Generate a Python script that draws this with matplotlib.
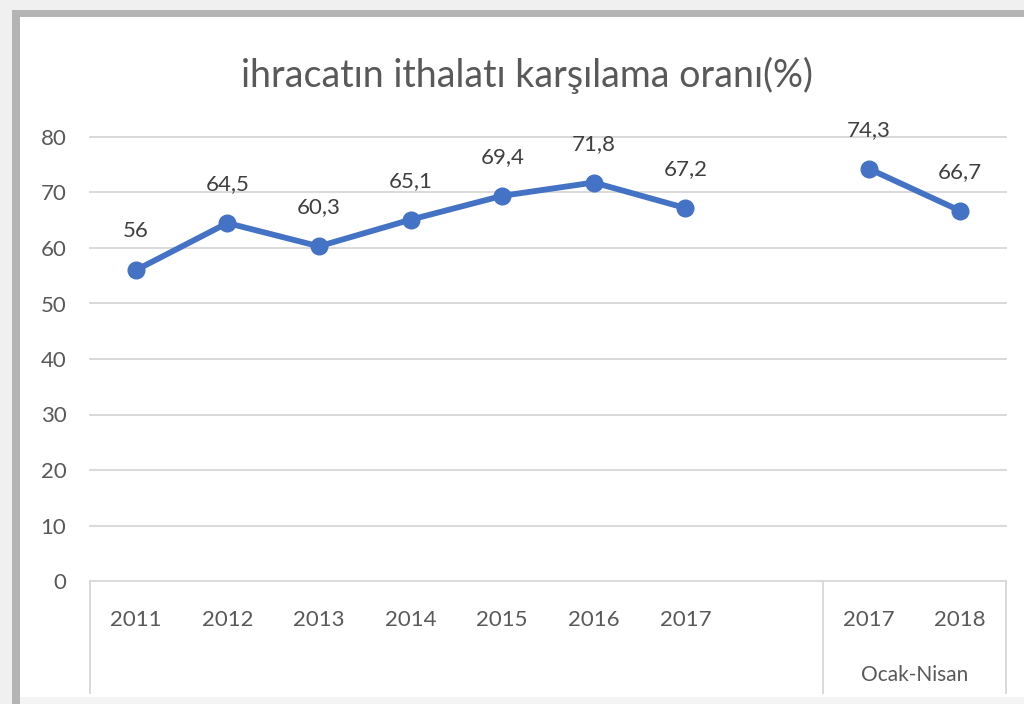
import numpy as np
import matplotlib
matplotlib.use("Agg")
import matplotlib.pyplot as plt
from matplotlib.patches import Rectangle
from matplotlib.transforms import blended_transform_factory
from matplotlib.lines import Line2D

categories = ['2011', '2012', '2013', '2014', '2015', '2016', '2017', '', '2017', '2018']
values = [56, 64.5, 60.3, 65.1, 69.4, 71.8, 67.2, np.nan, 74.3, 66.7]
group_label = 'Ocak-Nisan'
title = 'ihracatın ithalatı karşılama oranı(%)'
yticks = [0, 10, 20, 30, 40, 50, 60, 70, 80]

plt.rcParams['font.family'] = ['Lato', 'DejaVu Sans']

W, H = 1024, 704
fig = plt.figure(figsize=(W / 100, H / 100), dpi=100)
fig.patch.set_facecolor('white')

def px_rect(x0, y0, x1, y1, color):
    fig.add_artist(Rectangle((x0 / W, 1 - y1 / H), (x1 - x0) / W, (y1 - y0) / H,
                             transform=fig.transFigure, facecolor=color,
                             edgecolor='none', zorder=-10))

# screenshot frame
px_rect(0, 0, W, 10, '#f0f0f0')
px_rect(0, 0, 12, H, '#f0f0f0')
px_rect(12, 10, W, 17, '#b4b4b4')
px_rect(12, 10, 20, H, '#b4b4b4')
px_rect(20, 697, W, H, '#f4f4f4')

ax = fig.add_axes([90 / W, 1 - 581 / H, (1006 - 90) / W, (581 - 137) / H])
ax.set_facecolor('none')
x = np.arange(len(categories))
ax.set_xlim(-0.5, len(categories) - 0.5)
ax.set_ylim(0, 80)

for yv in yticks:
    ax.axhline(yv, color='#d9d9d9', lw=1.4, zorder=1, clip_on=False)

ax.plot(x, values, color='#4472C4', lw=4.2, marker='o', markersize=12,
        solid_capstyle='round', zorder=3, clip_on=False)

for xi, v in zip(x, values):
    if np.isnan(v):
        continue
    lab = ('%g' % v).replace('.', ',')
    ax.annotate(lab, (xi, v), xytext=(0, 28), textcoords='offset points',
                ha='center', va='center', fontsize=16, color='#404040', zorder=4)

for s in ax.spines.values():
    s.set_visible(False)
ax.set_yticks(yticks)
ax.set_yticklabels([str(t) for t in yticks], fontsize=16, color='#595959')
ax.tick_params(axis='y', length=0, pad=17)
ax.set_xticks([])

trans = blended_transform_factory(ax.transData, ax.transAxes)
for xl in [-0.5, 7.5, len(categories) - 0.5]:
    ax.add_artist(Line2D([xl, xl], [0, -0.252], transform=trans, color='#d9d9d9',
                         lw=1.4, clip_on=False))
for xi, c in zip(x, categories):
    if c:
        ax.text(xi, -0.088, c, transform=trans, ha='center', va='center',
                fontsize=16, color='#595959')
ax.text(8.5, -0.212, group_label, transform=trans, ha='center', va='center',
        fontsize=15, color='#595959')

fig.text(527 / W, 1 - 75 / H, title, ha='center', va='center', fontsize=27,
         color='#595959', fontweight='normal')

fig.savefig('out.png', dpi=100, facecolor=fig.get_facecolor())
